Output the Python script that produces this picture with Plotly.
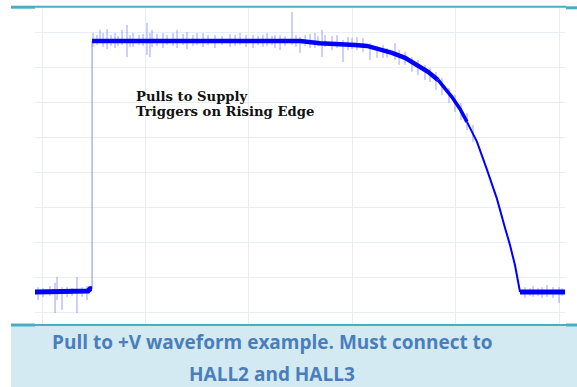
import plotly.graph_objects as go

# ---- data (x in divisions, y in divisions) ----
low_left_x = [-0.07, 0.445, 0.464, 0.484]
low_left_y = [0.60, 0.63, 0.69, 0.69]

edge_x = [0.484, 0.484]
edge_y = [0.69, 7.77]

high_x = [0.484, 2.495, 2.689, 2.882, 3.027, 3.143, 3.250, 3.385, 3.511,
          3.656, 3.733, 3.830]
high_y = [7.77, 7.77, 7.71, 7.69, 7.66, 7.63, 7.54, 7.43, 7.29,
          7.03, 6.89, 6.66]

droop_x = [3.830, 3.897, 3.965, 4.043, 4.110]
droop_y = [6.66, 6.43, 6.17, 5.83, 5.46]

fall_x = [4.110, 4.207, 4.304, 4.400, 4.478, 4.526, 4.574, 4.613, 4.623]
fall_y = [5.46, 4.89, 4.09, 3.26, 2.43, 1.94, 1.37, 0.66, 0.60]

low_right_x = [4.623, 5.06]
low_right_y = [0.60, 0.60]

# noise spikes: position, top, bottom
spike_x = [-0.039, 0.010, 0.077, 0.126, 0.145, 0.193, 0.242, 0.290, 0.338, 0.387, 0.435,
           0.493, 0.532, 0.561, 0.590, 0.629, 0.667, 0.706, 0.735, 0.774, 0.822, 0.851,
           0.880, 0.938, 0.977, 1.015, 1.044, 1.064, 1.112, 1.170, 1.209, 1.267, 1.306,
           1.364, 1.402, 1.460, 1.499, 1.557, 1.605, 1.673, 1.741, 1.818, 1.867, 1.915,
           1.973, 2.041, 2.089, 2.137, 2.176, 2.224, 2.253, 2.302, 2.350, 2.418, 2.456,
           2.495, 2.544, 2.592, 2.640, 2.669, 2.708, 2.737, 2.805, 2.853, 2.911, 2.959,
           2.998, 3.046, 3.104, 3.172, 3.240, 3.298, 3.337, 3.414, 3.453, 3.511, 3.578,
           3.636, 3.704, 3.752, 3.810, 3.868, 3.936, 3.994, 4.052, 4.110, 4.168,
           4.671, 4.720, 4.749, 4.797, 4.836, 4.884, 4.942, 5.000, 5.029]
spike_hi = [0.74, 0.71, 0.77, 0.86, 1.03, 0.74, 0.74, 0.71, 1.03, 0.74, 0.77,
            8.00, 7.94, 8.09, 8.00, 8.11, 7.94, 8.00, 7.91, 8.09, 8.23, 7.94,
            8.00, 7.94, 7.97, 8.29, 8.00, 8.09, 7.97, 8.00, 7.94, 8.00, 8.09,
            7.97, 8.03, 7.94, 8.00, 8.00, 7.94, 7.94, 7.91, 7.97, 7.94, 8.00,
            7.94, 7.94, 7.91, 7.94, 8.00, 7.91, 7.94, 7.94, 7.91, 8.60, 7.94,
            7.89, 7.94, 7.97, 8.00, 7.91, 8.09, 7.94, 7.91, 7.94, 7.80, 7.89,
            7.86, 7.89, 7.86, 7.71, 7.63, 7.66, 7.57, 7.71, 7.51, 7.46, 7.31,
            7.23, 7.09, 7.00, 6.89, 6.71, 6.43, 6.23, 6.00, 5.71, 5.37,
            0.74, 0.71, 0.77, 0.71, 0.74, 0.80, 0.74, 0.74, 0.71]
spike_lo = [0.37, 0.46, 0.49, 0.00, 0.37, 0.09, 0.46, 0.49, 0.00, 0.46, 0.37,
            7.60, 7.66, 7.71, 7.60, 7.54, 7.63, 7.57, 7.63, 7.66, 7.31, 7.60,
            7.60, 7.66, 7.63, 7.37, 7.31, 7.60, 7.63, 7.57, 7.66, 7.63, 7.57,
            7.66, 7.54, 7.63, 7.66, 7.60, 7.66, 7.57, 7.66, 7.60, 7.63, 7.66,
            7.60, 7.57, 7.66, 7.60, 7.63, 7.66, 7.57, 7.51, 7.63, 7.66, 7.60,
            7.43, 7.63, 7.57, 7.57, 7.63, 7.31, 7.60, 7.51, 7.57, 7.17, 7.51,
            7.54, 7.51, 7.46, 7.23, 7.29, 7.29, 7.29, 7.23, 7.09, 7.09, 6.89,
            6.80, 6.66, 6.60, 6.37, 6.23, 6.00, 5.74, 5.51, 5.23, 4.89,
            0.43, 0.49, 0.46, 0.49, 0.43, 0.46, 0.43, 0.29, 0.49]

note_lines = ["Pulls to Supply", "Triggers on Rising Edge"]
caption_lines = ["Pull to +V waveform example. Must connect to", "HALL2 and HALL3"]

# ---- figure ----
W, H = 577, 387
L, R, T, B = 35, 12, 8, 62
pw, ph = W - L - R, H - T - B


def px_x(p):
    return (p - L) / pw


def px_y(p):
    return (H - B - p) / ph


BLUE = "#0000ff"
SPIKE = "rgba(95,95,250,0.6)"
TEAL = "#4bacc6"

fig = go.Figure()

sx, sy = [], []
for x, hi, lo in zip(spike_x, spike_hi, spike_lo):
    sx += [x, x, None]
    sy += [lo, hi, None]
fig.add_trace(go.Scatter(x=sx, y=sy, mode="lines",
                         line=dict(color=SPIKE, width=1), hoverinfo="skip"))

fig.add_trace(go.Scatter(x=edge_x, y=edge_y, mode="lines",
                         line=dict(color="rgba(120,120,225,0.55)", width=1.6)))
fig.add_trace(go.Scatter(x=low_left_x, y=low_left_y, mode="lines",
                         line=dict(color=BLUE, width=5)))
fig.add_trace(go.Scatter(x=high_x, y=high_y, mode="lines",
                         line=dict(color=BLUE, width=4.5)))
fig.add_trace(go.Scatter(x=droop_x, y=droop_y, mode="lines",
                         line=dict(color=BLUE, width=3.5)))
fig.add_trace(go.Scatter(x=fall_x, y=fall_y, mode="lines",
                         line=dict(color=BLUE, width=2)))
fig.add_trace(go.Scatter(x=low_right_x, y=low_right_y, mode="lines",
                         line=dict(color=BLUE, width=5)))

grid = "#e8eff3"
fig.update_xaxes(range=[-0.068, 5.058], tick0=0, dtick=1, showgrid=True,
                 gridcolor=grid, gridwidth=1, zeroline=False, showticklabels=False,
                 ticks="", showline=False, fixedrange=True)
fig.update_yaxes(range=[-0.343, 8.714], tick0=0, dtick=1, showgrid=True,
                 gridcolor=grid, gridwidth=1, zeroline=False, showticklabels=False,
                 ticks="", showline=False, fixedrange=True)

shapes = [
    # caption box
    dict(type="rect", xref="paper", yref="paper", x0=px_x(11), x1=px_x(578),
         y0=px_y(388), y1=px_y(325), fillcolor="#d3eaf2", line=dict(width=0), layer="below"),
    dict(type="line", xref="paper", yref="paper", x0=px_x(11), x1=px_x(577),
         y0=px_y(325), y1=px_y(325), line=dict(color=TEAL, width=2)),
    dict(type="line", xref="paper", yref="paper", x0=px_x(11), x1=px_x(35),
         y0=px_y(325), y1=px_y(325), line=dict(color=TEAL, width=3)),
    dict(type="line", xref="paper", yref="paper", x0=px_x(566), x1=px_x(577),
         y0=px_y(325), y1=px_y(325), line=dict(color=TEAL, width=3)),
    # top border
    dict(type="line", xref="paper", yref="paper", x0=px_x(35), x1=px_x(566),
         y0=px_y(6.8), y1=px_y(6.8), line=dict(color=TEAL, width=2)),
    dict(type="line", xref="paper", yref="paper", x0=px_x(11), x1=px_x(35),
         y0=px_y(7.2), y1=px_y(7.2), line=dict(color=TEAL, width=3)),
    dict(type="line", xref="paper", yref="paper", x0=px_x(566), x1=px_x(577),
         y0=px_y(7.8), y1=px_y(7.8), line=dict(color=TEAL, width=3)),
]

ann = []
for text, py in zip(note_lines, [96, 112]):
    ann.append(dict(xref="paper", yref="paper", x=px_x(134), y=px_y(py), text=text,
                    showarrow=False, xanchor="left", yanchor="middle",
                    font=dict(family="DejaVu Serif", size=13.2, color="#111111", weight="bold")))
for text, py in zip(caption_lines, [342, 374]):
    ann.append(dict(xref="paper", yref="paper", x=px_x(272), y=px_y(py), text=text,
                    showarrow=False, xanchor="center", yanchor="middle",
                    font=dict(family="Open Sans", size=19, color="#4a7ebb", weight="bold")))

fig.update_layout(width=W, height=H, margin=dict(l=L, r=R, t=T, b=B),
                  paper_bgcolor="white", plot_bgcolor="white", showlegend=False,
                  shapes=shapes, annotations=ann)

fig.write_html("out.html", config={"displayModeBar": False},
               post_script="document.body.style.margin='0';document.body.style.overflow='hidden';")
